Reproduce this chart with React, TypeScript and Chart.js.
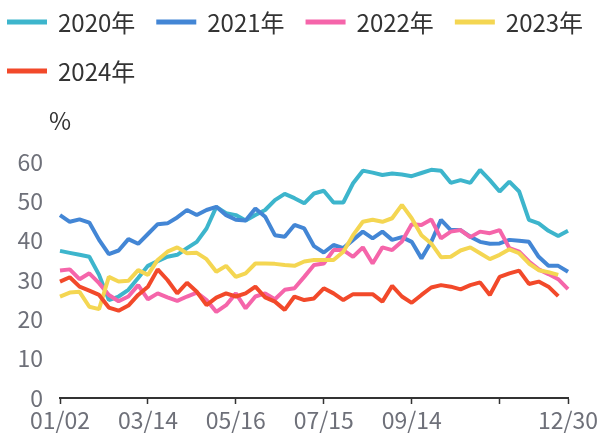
import React, { useEffect, useRef } from "react";
import { Chart, registerables } from "chart.js";

Chart.register(...registerables);

const categories = [
  "01/02", "01/09", "01/16", "01/23", "01/30", "02/06", "02/20", "02/27", "03/06",
  "03/14", "03/21", "03/28", "04/04", "04/11", "04/18", "04/25", "05/02", "05/09",
  "05/16", "05/23", "05/30", "06/06", "06/13", "06/20", "06/27", "07/04", "07/08",
  "07/15", "07/22", "07/29", "08/05", "08/12", "08/19", "08/26", "09/02", "09/09",
  "09/14", "09/21", "09/28", "10/12", "10/19", "10/26", "11/02", "11/09", "11/16",
  "11/23", "11/30", "12/07", "12/14", "12/21", "12/25", "12/28", "12/30",
];
const tickIndices = [0, 9, 18, 27, 36, 45, 52];
const labelIndices = [0, 9, 18, 27, 36, 52];
const yMin = 0;
const yMax = 60;
const yStep = 10;
const unitLabel = "%";

const seriesNames = ["2020年", "2021年", "2022年", "2023年", "2024年"];
const seriesColors = ["#3db5cc", "#4386d5", "#f565aa", "#f4d652", "#f2492a"];

const s2020 = [
  37.4, 36.9, 36.4, 35.9, 31.3, 24.9, 25.8, 27.5, 30.5, 33.6,
  34.8, 35.9, 36.4, 38.1, 39.7, 43.1, 48.6, 47.0, 46.5, 45.1,
  46.5, 47.8, 50.3, 51.9, 50.8, 49.5, 52.0, 52.7, 49.7, 49.7,
  54.6, 57.8, 57.3, 56.7, 57.1, 56.8, 56.4, 57.2, 58.0, 57.8,
  54.7, 55.4, 54.7, 58.0, 55.4, 52.5, 55.0, 52.5, 45.3, 44.4,
  42.5, 41.2, 42.5,
];
const s2021 = [
  46.5, 44.8, 45.4, 44.6, 40.2, 36.6, 37.5, 40.4, 39.2, 41.7,
  44.2, 44.4, 45.9, 47.8, 46.5, 47.8, 48.6, 46.5, 45.3, 45.1,
  48.2, 46.1, 41.4, 41.0, 44.0, 43.1, 38.6, 37.0, 38.9, 38.1,
  40.2, 42.3, 40.6, 42.3, 40.2, 40.9, 39.7, 35.5, 39.7, 45.3,
  42.7, 42.7, 41.0, 39.7, 39.2, 39.3, 40.2, 40.0, 39.7, 35.9,
  33.6, 33.6, 32.1,
];
const s2022 = [
  32.4, 32.7, 30.2, 31.7, 29.2, 26.2, 24.6, 25.8, 28.7, 25.1,
  26.6, 25.6, 24.7, 25.8, 26.8, 24.9, 21.9, 23.6, 26.6, 22.8,
  25.8, 26.6, 25.1, 27.5, 27.9, 30.8, 33.8, 34.2, 37.6, 37.6,
  35.9, 38.3, 34.2, 38.3, 37.6, 39.8, 44.2, 44.0, 45.4, 40.6,
  42.3, 42.7, 40.9, 42.3, 41.9, 42.7, 38.1, 37.2, 34.7, 32.7,
  31.5, 30.2, 27.7,
];
const s2023 = [
  25.8, 26.8, 27.0, 23.2, 22.6, 30.8, 29.6, 29.8, 32.5, 31.3,
  35.1, 37.2, 38.3, 36.8, 36.9, 35.3, 32.1, 33.6, 30.8, 31.7,
  34.2, 34.2, 34.1, 33.8, 33.6, 34.7, 35.1, 35.1, 35.1, 37.2,
  41.4, 44.8, 45.3, 44.8, 45.7, 49.1, 45.7, 41.4, 39.3, 35.8,
  35.9, 37.5, 38.3, 36.8, 35.3, 36.4, 37.8, 36.8, 34.2, 32.5,
  32.0, 31.3,
];
const s2024 = [
  29.6, 30.7, 28.3, 27.3, 26.2, 23.0, 22.2, 23.5, 26.2, 28.3,
  32.7, 30.0, 26.6, 29.3, 27.0, 23.6, 25.5, 26.6, 25.8, 26.6,
  28.3, 25.6, 24.5, 22.4, 25.8, 24.9, 25.3, 27.9, 26.6, 24.9,
  26.4, 26.4, 26.4, 24.5, 28.5, 25.8, 24.2, 26.2, 28.1, 28.7,
  28.3, 27.6, 28.7, 29.4, 26.2, 30.8, 31.7, 32.4, 29.0, 29.6,
  28.3, 25.9,
];
const seriesValues = [s2020, s2021, s2022, s2023, s2024];

const FONT = '"Noto Sans CJK SC", "Noto Sans", sans-serif';
const W = 601;
const H = 439;

const legendPlugin = {
  id: "customLegend",
  afterDraw(chart: any) {
    const ctx = chart.ctx;
    ctx.save();
    ctx.font = `24px ${FONT}`;
    ctx.textBaseline = "middle";
    ctx.textAlign = "left";
    let x = 7;
    let row = 0;
    chart.data.datasets.forEach((ds: any) => {
      const tw = ctx.measureText(ds.label).width;
      const itemW = 40 + 11 + tw;
      if (x > 7 && x + itemW > chart.width - 4) {
        row += 1;
        x = 7;
      }
      const yc = 22 + row * 49;
      ctx.fillStyle = ds.borderColor;
      ctx.fillRect(x, yc - 2.5, 40, 5);
      ctx.fillStyle = "#333333";
      ctx.fillText(ds.label, x + 51, yc + 1);
      x += itemW + 21;
    });
    const area = chart.chartArea;
    ctx.textAlign = "center";
    ctx.fillStyle = "#333333";
    ctx.font = `24px ${FONT}`;
    ctx.fillText(unitLabel, area.left, area.top - 41);
    ctx.restore();
  },
};

export default function App() {
  const canvasRef = useRef<HTMLCanvasElement | null>(null);

  useEffect(() => {
    const canvas = canvasRef.current;
    if (!canvas) return;
    const chart = new Chart(canvas, {
      type: "line",
      data: {
        labels: categories,
        datasets: seriesNames.map((name, i) => ({
          label: name,
          data: seriesValues[i],
          borderColor: seriesColors[i],
          backgroundColor: seriesColors[i],
          borderWidth: 4,
          borderJoinStyle: "bevel" as const,
          pointRadius: 0,
          pointHoverRadius: 0,
          tension: 0,
          fill: false,
          order: seriesNames.length - i,
        })),
      },
      options: {
        responsive: false,
        animation: false,
        devicePixelRatio: 1,
        layout: { padding: { top: 162, right: 33, bottom: 0, left: 0 } },
        plugins: {
          legend: { display: false },
          tooltip: { enabled: false },
          title: { display: false },
        },
        scales: {
          x: {
            type: "category",
            offset: false,
            afterFit: (s: any) => {
              s.height = 41;
            },
            border: { display: true, color: "#333333", width: 2 },
            grid: {
              display: true,
              drawOnChartArea: false,
              drawTicks: true,
              tickLength: 6,
              color: "rgba(0,0,0,0)",
              tickColor: (c: any) =>
                tickIndices.includes(c.index) ? "#333333" : "rgba(0,0,0,0)",
              tickWidth: 1.5,
            },
            ticks: {
              autoSkip: false,
              maxRotation: 0,
              minRotation: 0,
              padding: 2,
              color: "#6e7079",
              font: { size: 23, family: FONT },
              callback: (_v: any, i: number) =>
                labelIndices.includes(i) ? categories[i] : "",
            },
          },
          y: {
            min: yMin,
            max: yMax,
            afterFit: (s: any) => {
              s.width = 60;
            },
            border: { display: false },
            grid: { display: false, drawTicks: false },
            ticks: {
              stepSize: yStep,
              padding: 17,
              color: "#6e7079",
              font: { size: 23, family: FONT },
            },
          },
        },
      },
      plugins: [legendPlugin],
    });
    return () => chart.destroy();
  }, []);

  return (
    <div style={{ position: "fixed", left: 0, top: 0, width: W, height: H, background: "#ffffff" }}>
      <canvas ref={canvasRef} width={W} height={H} style={{ width: W, height: H, display: "block" }} />
    </div>
  );
}
